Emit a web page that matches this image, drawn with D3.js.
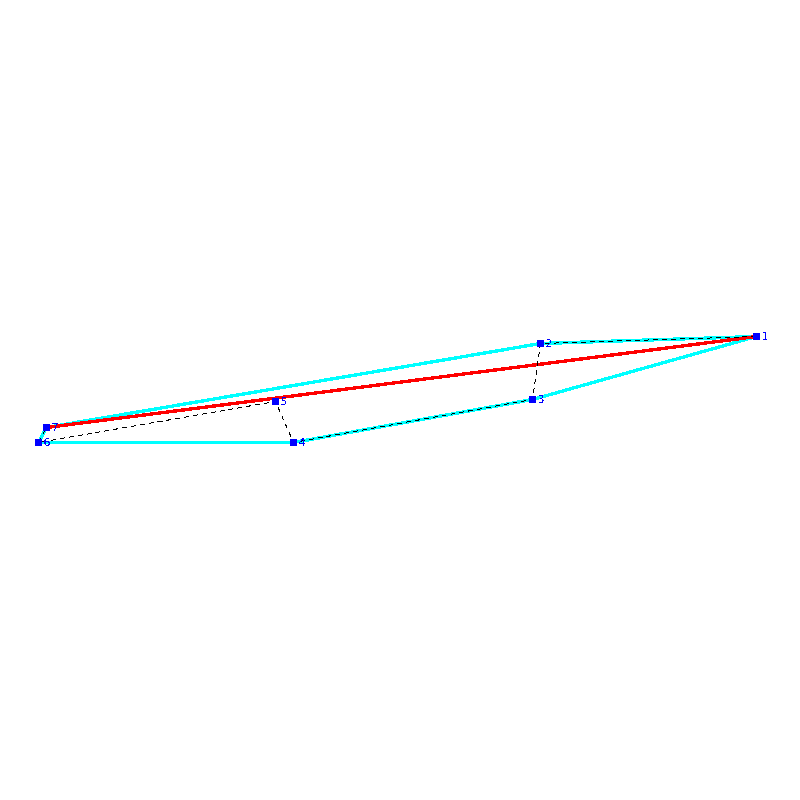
<!DOCTYPE html>
<html>
<head>
<meta charset="utf-8">
<script src="https://cdnjs.cloudflare.com/ajax/libs/d3/7.8.5/d3.min.js"></script>
<style>
  html, body { margin: 0; padding: 0; background: #fff; }
  svg { display: block; }
</style>
</head>
<body>
<div id="chart"></div>
<script>
// node positions
const labels = ["1", "2", "3", "4", "5", "6", "7"];
const xs = [757, 541, 533, 294, 276, 39, 47];
const ys = [336, 343, 399, 442, 401, 442, 427];

// paths, as indexes into the node list
const hull = [0, 1, 6, 5, 3, 2, 0];
const tour = [0, 1, 2, 3, 4, 5, 6];
const best = [6, 0];

// half pixel offsets so the marks land on the same pixels as the reference
const x = d3.scaleLinear().domain([0, 800]).range([-0.5, 799.5]);
const y = d3.scaleLinear().domain([0, 800]).range([0.5, 800.5]);

const svg = d3.select("#chart").append("svg")
    .attr("width", 800)
    .attr("height", 800);

// hard edged text, the reference has no antialiasing
svg.append("defs").append("filter")
    .attr("id", "aliased")
  .append("feComponentTransfer")
  .append("feFuncA")
    .attr("type", "discrete")
    .attr("tableValues", "0 0 1 1");

const line = d3.line()
    .x(i => x(xs[i]))
    .y(i => y(ys[i]));

function draw_path(nodes, color, width, dash) {
  svg.append("path")
      .attr("d", line(nodes))
      .attr("fill", "none")
      .attr("stroke", color)
      .attr("stroke-width", width)
      .attr("stroke-dasharray", dash)
      .attr("shape-rendering", "crispEdges");
}

draw_path(hull, "#00ffff", 3.4, null);
draw_path(best, "#ff0000", 3.4, null);
draw_path(tour, "#000000", 1, "5,4");

svg.selectAll("rect.node")
  .data(labels)
  .join("rect")
    .classed("node", true)
    .attr("x", (d, i) => x(xs[i]) - 3.5)
    .attr("y", (d, i) => y(ys[i]) - 3.5)
    .attr("width", 7)
    .attr("height", 7)
    .attr("fill", "#0000ff")
    .attr("shape-rendering", "crispEdges");

svg.append("g")
    .attr("filter", "url(#aliased)")
  .selectAll("text.label")
  .data(labels)
  .join("text")
    .classed("label", true)
    .attr("x", (d, i) => x(xs[i]) + 5)
    .attr("y", (d, i) => y(ys[i]) + 3.5)
    .attr("font-family", "DejaVu Sans, sans-serif")
    .attr("font-size", 11)
    .attr("fill", "#0000ff")
    .text(d => d);
</script>
</body>
</html>
